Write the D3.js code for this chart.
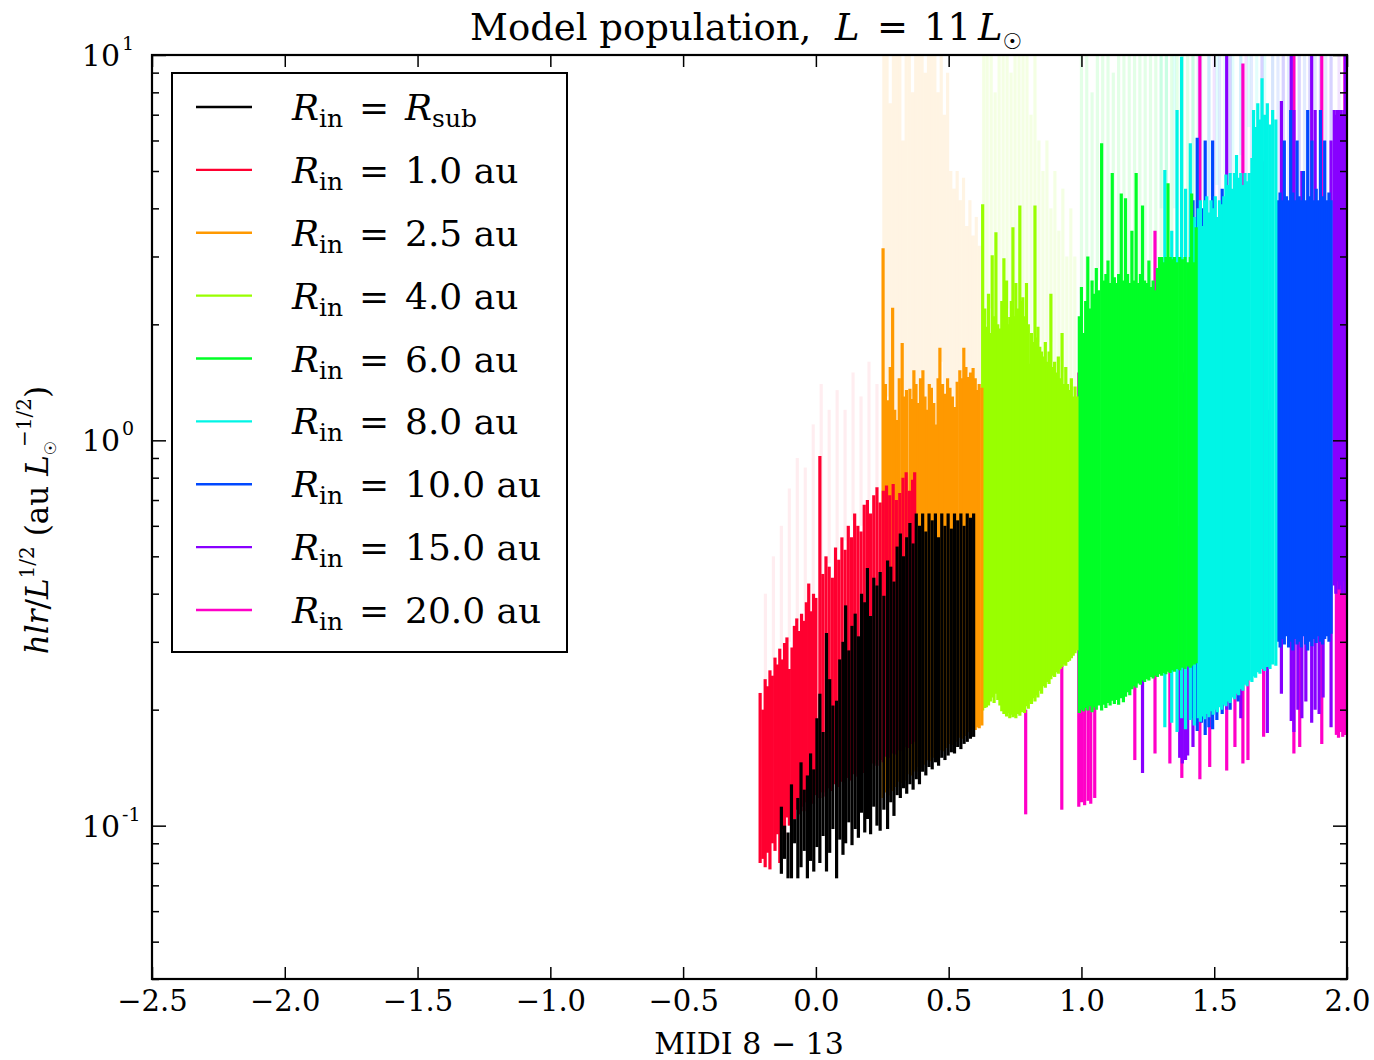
<!DOCTYPE html>
<html lang="en">
<head>
<meta charset="utf-8">
<title>Model population</title>
<script src="https://d3js.org/d3.v7.min.js"></script>
<style>
  body { margin: 0; background: #ffffff; }
  text { font-family: "DejaVu Serif", serif; fill: #000; }
</style>
</head>
<body>
<script>
// ---- data: each segment is [MIDI 8-13 colour, hlr low, hlr high] ----
var labels = ["R_sub", "1.0 au", "2.5 au", "4.0 au", "6.0 au", "8.0 au", "10.0 au", "15.0 au", "20.0 au"];
var colors = ["#000000", "#ff0030", "#ff9900", "#99ff00", "#00ff26", "#00f5e6", "#0048ff", "#8800ff", "#ff00c8"];
var xTicks = [-2.5, -2.0, -1.5, -1.0, -0.5, 0.0, 0.5, 1.0, 1.5, 2.0];
var yMajor = [0.1, 1, 10];

var rsub = [
  [-0.130,0.075,0.112],[-0.118,0.082,0.100],[-0.105,0.073,0.096],[-0.092,0.073,0.128],[-0.080,0.090,0.104],
  [-0.068,0.073,0.118],[-0.056,0.078,0.146],[-0.044,0.086,0.124],[-0.032,0.073,0.135],[-0.020,0.081,0.154],
  [-0.008,0.076,0.140],[0.004,0.088,0.190],[0.015,0.080,0.220],[0.027,0.094,0.175],[0.040,0.076,0.316],
  [0.052,0.085,0.240],[0.064,0.098,0.205],[0.078,0.073,0.211],[0.090,0.092,0.270],[0.102,0.084,0.300],
  [0.112,0.090,0.373],[0.124,0.102,0.285],[0.136,0.089,0.330],[0.148,0.098,0.355],[0.160,0.093,0.310],
  [0.172,0.108,0.400],[0.184,0.096,0.380],[0.194,0.104,0.466],[0.206,0.095,0.350],[0.218,0.112,0.440],
  [0.230,0.100,0.420],[0.242,0.097,0.455],[0.256,0.110,0.395],[0.270,0.098,0.488],[0.282,0.115,0.470],
  [0.294,0.106,0.430],[0.306,0.120,0.530],[0.318,0.118,0.573],[0.330,0.125,0.500],[0.342,0.121,0.560],
  [0.354,0.128,0.610],[0.366,0.124,0.540],[0.378,0.132,0.646],[0.390,0.128,0.600],[0.402,0.138,0.646],
  [0.414,0.135,0.580],[0.426,0.142,0.646],[0.438,0.140,0.620],[0.450,0.146,0.646],[0.462,0.143,0.560],
  [0.474,0.150,0.646],[0.486,0.148,0.600],[0.498,0.152,0.646],[0.510,0.155,0.590],[0.522,0.154,0.646],
  [0.534,0.160,0.620],[0.546,0.158,0.646],[0.558,0.163,0.600],[0.570,0.165,0.646],[0.582,0.168,0.630],
  [0.594,0.170,0.646]
];
var rin1 = [
  [-0.210,0.080,0.221],[-0.200,0.082,0.200],[-0.191,0.078,0.240],[-0.182,0.085,0.230],[-0.173,0.077,0.253],
  [-0.164,0.090,0.245],[-0.154,0.086,0.273],[-0.145,0.095,0.262],[-0.136,0.080,0.288],[-0.127,0.098,0.270],
  [-0.118,0.092,0.298],[-0.109,0.105,0.308],[-0.100,0.100,0.255],[-0.090,0.108,0.290],[-0.081,0.104,0.330],
  [-0.072,0.110,0.345],[-0.063,0.107,0.320],[-0.054,0.112,0.355],[-0.045,0.109,0.340],[-0.036,0.115,0.380],
  [-0.027,0.113,0.425],[-0.018,0.118,0.360],[-0.009,0.114,0.400],[0.000,0.120,0.390],[0.015,0.118,0.910],
  [0.026,0.122,0.450],[0.038,0.119,0.500],[0.050,0.125,0.470],[0.062,0.123,0.440],[0.074,0.128,0.527],
  [0.086,0.126,0.490],[0.098,0.130,0.560],[0.110,0.129,0.520],[0.122,0.133,0.600],[0.134,0.131,0.560],
  [0.146,0.136,0.646],[0.158,0.134,0.600],[0.170,0.139,0.580],[0.182,0.137,0.680],[0.194,0.142,0.700],
  [0.206,0.140,0.646],[0.218,0.145,0.720],[0.230,0.143,0.755],[0.242,0.148,0.690],[0.254,0.146,0.740],
  [0.266,0.151,0.764],[0.278,0.150,0.720],[0.291,0.154,0.770],[0.303,0.153,0.700],[0.316,0.157,0.730],
  [0.328,0.156,0.800],[0.340,0.160,0.826],[0.352,0.159,0.740],[0.364,0.163,0.790],[0.372,0.165,0.826]
];
var rin25 = [
  [0.253,0.118,3.15],[0.262,0.122,1.40],[0.272,0.120,1.27],[0.280,0.125,1.55],[0.289,0.123,2.21],
  [0.297,0.127,1.20],[0.304,0.126,1.13],[0.314,0.130,1.45],[0.325,0.129,1.79],[0.333,0.133,1.30],
  [0.341,0.131,1.35],[0.354,0.136,1.36],[0.362,0.135,1.28],[0.369,0.139,1.52],[0.377,0.138,1.40],
  [0.384,0.142,1.25],[0.394,0.141,1.45],[0.403,0.145,1.52],[0.411,0.144,1.30],[0.418,0.148,1.20],
  [0.427,0.147,1.40],[0.435,0.151,1.37],[0.444,0.150,1.25],[0.452,0.154,1.10],[0.460,0.153,1.45],
  [0.467,0.157,1.74],[0.477,0.156,1.40],[0.486,0.160,1.32],[0.496,0.159,1.45],[0.505,0.163,1.37],
  [0.514,0.162,1.30],[0.523,0.166,1.22],[0.532,0.165,1.42],[0.542,0.169,1.52],[0.550,0.168,1.45],
  [0.557,0.172,1.74],[0.565,0.171,1.55],[0.573,0.175,1.46],[0.582,0.174,1.50],[0.592,0.178,1.54],
  [0.600,0.177,1.45],[0.606,0.180,1.35],[0.615,0.179,1.40],[0.625,0.182,1.37]
];
var rin4 = [
  [0.628,0.199,4.10],[0.636,0.202,2.20],[0.642,0.203,1.97],[0.650,0.205,2.40],[0.657,0.210,1.90],
  [0.664,0.215,3.02],[0.671,0.208,2.10],[0.678,0.220,3.47],[0.685,0.212,2.00],[0.693,0.205,1.95],
  [0.700,0.198,2.30],[0.708,0.195,2.97],[0.713,0.200,2.20],[0.718,0.192,2.60],[0.724,0.196,2.00],
  [0.730,0.190,2.09],[0.736,0.194,2.30],[0.742,0.191,3.57],[0.748,0.193,2.10],[0.753,0.190,2.56],
  [0.760,0.195,2.20],[0.768,0.193,4.07],[0.774,0.197,2.30],[0.779,0.199,2.35],[0.786,0.196,2.10],
  [0.793,0.204,2.56],[0.800,0.201,2.00],[0.806,0.211,1.58],[0.812,0.207,1.90],[0.818,0.214,1.80],
  [0.825,0.210,4.07],[0.830,0.218,1.85],[0.836,0.215,1.97],[0.843,0.224,1.75],[0.850,0.220,1.70],
  [0.857,0.230,1.65],[0.864,0.228,1.80],[0.871,0.236,1.60],[0.878,0.233,1.70],[0.885,0.240,2.40],
  [0.892,0.245,1.55],[0.899,0.243,1.60],[0.906,0.250,1.50],[0.913,0.248,1.65],[0.920,0.255,1.45],
  [0.927,0.258,1.90],[0.934,0.262,1.40],[0.941,0.260,1.55],[0.948,0.266,1.40],[0.955,0.268,1.35],
  [0.962,0.272,1.45],[0.969,0.276,1.30],[0.976,0.280,1.38],[0.983,0.285,1.30]
];
var rin6 = [
  [0.992,0.196,2.10],[1.000,0.200,2.50],[1.008,0.198,1.90],[1.016,0.202,2.30],[1.024,0.199,3.00],
  [1.032,0.204,2.20],[1.040,0.197,2.60],[1.048,0.203,2.40],[1.056,0.200,2.80],[1.064,0.205,2.45],
  [1.076,0.199,5.90],[1.084,0.206,2.60],[1.092,0.202,2.70],[1.100,0.208,2.93],[1.108,0.205,2.56],
  [1.116,0.211,4.94],[1.124,0.207,2.65],[1.132,0.212,2.56],[1.140,0.206,2.70],[1.150,0.214,4.37],
  [1.158,0.209,2.60],[1.166,0.216,4.25],[1.174,0.222,2.70],[1.182,0.218,2.56],[1.190,0.226,3.50],
  [1.198,0.230,2.60],[1.206,0.228,4.94],[1.214,0.234,2.56],[1.222,0.232,2.70],[1.230,0.238,4.07],
  [1.238,0.236,2.60],[1.246,0.240,2.56],[1.254,0.238,2.93],[1.262,0.243,2.50],[1.270,0.241,2.60],
  [1.278,0.245,2.45],[1.286,0.243,2.80],[1.294,0.247,2.99],[1.302,0.245,2.99],[1.310,0.249,2.90],
  [1.318,0.247,2.99],[1.326,0.251,4.65],[1.334,0.249,2.99],[1.342,0.253,2.95],[1.350,0.251,2.99],
  [1.360,0.255,2.90],[1.370,0.253,2.99],[1.380,0.257,2.95],[1.390,0.255,2.99],[1.400,0.259,2.90],
  [1.410,0.257,2.99],[1.415,0.260,4.37],[1.425,0.262,2.90],[1.432,0.264,3.57]
];
var rin8 = [
  [1.314,0.180,5.03],[1.340,0.185,3.50],[1.360,0.175,7.20],[1.377,0.190,9.90],[1.392,0.178,4.50],
  [1.410,0.188,5.90],[1.425,0.182,3.80],[1.440,0.190,4.00],[1.448,0.186,4.20],[1.456,0.192,3.60],
  [1.464,0.189,4.20],[1.472,0.195,4.30],[1.480,0.191,3.90],[1.488,0.198,4.20],[1.496,0.194,4.00],
  [1.504,0.200,4.30],[1.512,0.197,3.80],[1.520,0.203,4.20],[1.528,0.200,4.10],[1.536,0.206,4.30],
  [1.544,0.204,4.90],[1.552,0.210,4.60],[1.560,0.208,4.94],[1.568,0.215,4.50],[1.576,0.213,4.94],
  [1.584,0.220,5.50],[1.592,0.218,4.80],[1.600,0.226,4.94],[1.608,0.224,4.60],[1.616,0.232,4.94],
  [1.624,0.230,4.70],[1.632,0.238,4.94],[1.642,0.236,5.40],[1.648,0.244,7.20],[1.656,0.242,6.50],
  [1.664,0.250,7.50],[1.672,0.248,6.80],[1.680,0.255,8.70],[1.690,0.252,7.00],[1.700,0.258,7.50],
  [1.710,0.255,6.60],[1.720,0.262,7.20],[1.732,0.260,6.80]
];
var rin10 = [
  [1.420,0.190,4.20],[1.436,0.176,6.10],[1.452,0.185,4.00],[1.466,0.172,6.00],[1.480,0.180,3.50],
  [1.494,0.178,6.00],[1.510,0.188,3.80],[1.530,0.195,4.50],[1.560,0.200,3.60],[1.590,0.210,4.20],
  [1.740,0.300,4.20],[1.748,0.290,4.40],[1.756,0.305,4.20],[1.764,0.295,6.00],[1.772,0.310,4.30],
  [1.780,0.290,4.20],[1.788,0.300,7.20],[1.796,0.285,4.40],[1.804,0.305,4.20],[1.812,0.295,6.00],
  [1.820,0.300,4.30],[1.828,0.290,4.20],[1.836,0.310,5.00],[1.844,0.295,4.20],[1.852,0.285,7.20],
  [1.860,0.300,4.30],[1.868,0.292,6.00],[1.876,0.305,4.20],[1.884,0.298,4.50],[1.892,0.310,4.20],
  [1.900,0.300,7.20],[1.908,0.295,4.30],[1.916,0.305,6.00],[1.924,0.310,4.20],[1.932,0.300,4.40],
  [1.940,0.315,4.20]
];
var rin15 = [
  [1.230,0.137,0.240],[1.370,0.150,0.600],[1.380,0.145,1.50],[1.392,0.148,0.900],[1.400,0.152,2.00],
  [1.420,0.160,0.500],[1.547,0.200,10.0],[1.600,0.190,3.00],[1.700,0.174,1.20],[1.753,0.220,7.60],
  [1.790,0.187,10.0],[1.800,0.175,7.20],[1.815,0.200,3.00],[1.830,0.190,5.00],[1.845,0.210,2.00],
  [1.867,0.185,10.0],[1.880,0.200,7.20],[1.895,0.195,4.00],[1.910,0.215,3.00],[1.940,0.180,6.00],
  [1.952,0.420,7.20],[1.958,0.400,7.00],[1.964,0.430,7.20],[1.970,0.410,6.80],[1.976,0.420,7.20],
  [1.982,0.400,7.00],[1.988,0.430,7.20],[1.994,0.400,10.0]
];
var rin20 = [
  [0.790,0.107,0.200],[0.926,0.110,0.300],[0.990,0.112,1.50],[1.000,0.115,0.600],[1.012,0.113,0.300],
  [1.025,0.116,0.250],[1.035,0.114,0.350],[1.050,0.118,0.220],[1.201,0.148,0.300],[1.277,0.154,3.50],
  [1.333,0.145,0.400],[1.378,0.133,0.350],[1.446,0.132,10.0],[1.483,0.142,0.300],[1.547,0.139,0.350],
  [1.578,0.160,0.250],[1.608,0.145,9.50],[1.627,0.148,0.300],[1.686,0.170,5.30],[1.800,0.154,10.0],
  [1.822,0.160,0.350],[1.905,0.163,10.0],[1.960,0.172,0.450],[1.968,0.169,0.430],[1.976,0.175,0.450],
  [1.984,0.170,0.440],[1.992,0.172,10.0]
];

// faint (low opacity) extensions drawn behind the solid segments
var rin1Faint = [
  [-0.19,0.24,0.40],[-0.16,0.27,0.50],[-0.13,0.29,0.60],[-0.10,0.30,0.75],[-0.07,0.34,0.90],
  [-0.04,0.36,0.85],[-0.01,0.40,1.10],[0.02,0.45,1.40],[0.05,0.48,1.20],[0.08,0.52,1.35],
  [0.11,0.55,1.20],[0.14,0.62,1.50],[0.17,0.60,1.30],[0.20,0.70,1.60],[0.23,0.75,1.40]
];
var rin25Faint = [
  [0.256,1.4,10],[0.268,1.3,10],[0.280,1.5,7.5],[0.292,1.2,10],[0.304,1.1,10],[0.316,1.4,10],
  [0.328,1.3,6.0],[0.340,1.35,10],[0.352,1.36,10],[0.364,1.3,8.0],[0.376,1.4,10],[0.388,1.25,10],
  [0.400,1.5,10],[0.412,1.3,9.0],[0.424,1.2,10],[0.436,1.37,10],[0.448,1.1,10],[0.460,1.45,8.0],
  [0.472,1.6,10],[0.484,1.3,7.0],[0.496,1.45,9.0],[0.508,1.37,5.0],[0.520,1.22,4.5],[0.532,1.4,5.0],
  [0.544,1.5,4.2],[0.556,1.7,4.8],[0.568,1.5,3.6],[0.580,1.5,4.2],[0.592,1.54,3.4],[0.604,1.35,3.8],
  [0.616,1.4,3.2]
];
var rin4Faint = [
  [0.632,2.0,10],[0.645,2.0,10],[0.660,2.2,10],[0.675,2.0,8.0],[0.690,2.0,10],[0.705,2.2,10],
  [0.720,2.2,10],[0.735,2.1,9.0],[0.750,2.3,10],[0.765,2.2,10],[0.780,2.1,10],[0.795,2.0,10],
  [0.810,1.9,7.0],[0.825,2.0,10],[0.840,1.8,6.0],[0.855,1.7,5.0],[0.870,1.6,6.0],[0.885,1.8,4.0],
  [0.900,1.5,5.0],[0.915,1.6,3.5],[0.930,1.5,4.5],[0.945,1.4,3.0],[0.960,1.4,4.0],[0.975,1.35,3.0]
];
var rin6Faint = [
  [1.00,2.4,10],[1.02,2.3,10],[1.04,2.5,8.0],[1.06,2.6,10],[1.08,2.6,10],[1.10,2.9,10],
  [1.12,2.6,9.0],[1.14,2.7,10],[1.16,2.6,10],[1.18,2.7,10],[1.20,2.6,10],[1.22,2.7,10],
  [1.24,2.6,10],[1.26,2.5,10],[1.28,2.6,10],[1.30,3.0,10],[1.32,3.0,10],[1.34,3.0,10],
  [1.36,2.9,10],[1.38,3.0,10],[1.40,2.9,10],[1.42,3.0,10]
];
var rin8Faint = [
  [1.30,4.0,10],[1.32,4.5,10],[1.35,4.0,10],[1.38,4.5,10],[1.42,3.8,10],[1.45,4.2,10],
  [1.48,4.3,10],[1.51,4.6,10],[1.54,4.9,10],[1.57,4.9,10],[1.60,5.5,10],[1.63,6.5,10],
  [1.66,6.8,10],[1.69,5.5,10],[1.72,4.8,10]
];
var rin10Faint = [
  [1.44,4.0,10],[1.48,3.5,10],[1.52,3.8,10],[1.56,3.6,10],[1.60,4.2,10],[1.64,4.5,10],
  [1.68,4.5,10],[1.74,4.2,10],[1.76,4.2,10],[1.78,4.2,10],[1.80,4.4,10],[1.82,4.3,10],
  [1.84,4.2,10],[1.86,4.3,10],[1.88,4.5,10],[1.90,7.2,10],[1.92,4.2,10],[1.94,4.2,10]
];
var rin15Faint = [
  [1.50,3.0,10],[1.56,3.0,10],[1.62,3.0,10],[1.68,3.0,10],[1.72,3.0,10],[1.76,4.0,10],
  [1.82,3.0,10],[1.86,4.0,10],[1.90,3.0,10],[1.94,4.0,10],[1.97,7.0,10]
];

var solidSets = [rsub, rin1, rin25, rin4, rin6, rin8, rin10, rin15, rin20];
var faintSets = [[], rin1Faint, rin25Faint, rin4Faint, rin6Faint, rin8Faint, rin10Faint, rin15Faint, []];
var faintAlpha = [0, 0.07, 0.11, 0.11, 0.11, 0.11, 0.11, 0.11, 0];

// ---- layout ----
var width = 1374, height = 1060;
var plotL = 152, plotR = 1347, plotT = 55, plotB = 979;

var svg = d3.select("body").append("svg")
    .attr("width", width)
    .attr("height", height);

var x = d3.scaleLinear().domain([-2.5, 2.0]).range([plotL, plotR]);
var y = d3.scaleLog().domain([0.04, 10]).range([plotB, plotT]);

svg.append("defs").append("clipPath").attr("id", "plotclip")
  .append("rect").attr("x", plotL).attr("y", plotT)
  .attr("width", plotR - plotL).attr("height", plotB - plotT);

var plot = svg.append("g").attr("clip-path", "url(#plotclip)");

// faint layers first, magenta at the bottom and black on top
for (var i = faintSets.length - 1; i >= 0; i--) {
  plot.append("g").selectAll("line")
    .data(faintSets[i]).enter().append("line")
    .attr("x1", function(d) { return x(d[0]); })
    .attr("x2", function(d) { return x(d[0]); })
    .attr("y1", function(d) { return y(d[1]); })
    .attr("y2", function(d) { return y(d[2]); })
    .attr("stroke", colors[i])
    .attr("stroke-opacity", faintAlpha[i])
    .attr("stroke-width", 3.2);
}
for (var j = solidSets.length - 1; j >= 0; j--) {
  plot.append("g").selectAll("line")
    .data(solidSets[j]).enter().append("line")
    .attr("x1", function(d) { return x(d[0]); })
    .attr("x2", function(d) { return x(d[0]); })
    .attr("y1", function(d) { return y(d[1]); })
    .attr("y2", function(d) { return y(d[2]); })
    .attr("stroke", colors[j])
    .attr("stroke-width", 3.2);
}

// ---- axes (ticks inside on all four sides) ----
var minorY = [];
[0.01, 0.1, 1].forEach(function(b) {
  for (var k = 2; k <= 9; k++) {
    var v = b * k;
    if (v >= 0.04 && v <= 10) minorY.push(+v.toFixed(3));
  }
});

function styleAxis(g) {
  g.select(".domain").remove();
  g.selectAll(".tick line").attr("stroke", "#000").attr("stroke-width", 1.5);
  g.selectAll(".tick text").attr("font-family", "DejaVu Serif").attr("font-size", 29).attr("fill", "#000");
}

svg.append("g").attr("transform", "translate(0," + plotB + ")")
  .call(d3.axisBottom(x).tickValues(xTicks).tickSize(-12).tickPadding(11).tickFormat(d3.format(".1f")))
  .call(styleAxis);
svg.append("g").attr("transform", "translate(0," + plotT + ")")
  .call(d3.axisTop(x).tickValues(xTicks).tickSize(-12).tickFormat(""))
  .call(styleAxis);
svg.append("g").attr("transform", "translate(" + plotL + ",0)")
  .call(d3.axisLeft(y).tickValues(yMajor).tickSize(-14).tickFormat(""))
  .call(styleAxis);
svg.append("g").attr("transform", "translate(" + plotL + ",0)")
  .call(d3.axisLeft(y).tickValues(minorY).tickSize(-7).tickFormat(""))
  .call(styleAxis);
svg.append("g").attr("transform", "translate(" + plotR + ",0)")
  .call(d3.axisRight(y).tickValues(yMajor).tickSize(-14).tickFormat(""))
  .call(styleAxis);
svg.append("g").attr("transform", "translate(" + plotR + ",0)")
  .call(d3.axisRight(y).tickValues(minorY).tickSize(-7).tickFormat(""))
  .call(styleAxis);

// y tick labels as 10^k
var ylg = svg.append("g");
yMajor.forEach(function(d) {
  ylg.append("text")
    .attr("x", 120).attr("y", y(d) + 11)
    .attr("text-anchor", "end").attr("font-size", 30)
    .text("10");
  ylg.append("text")
    .attr("x", 122).attr("y", y(d) - 5)
    .attr("font-size", 19)
    .text(String(Math.round(Math.log10(d))));
});

// frame
svg.append("rect")
  .attr("x", plotL).attr("y", plotT)
  .attr("width", plotR - plotL).attr("height", plotB - plotT)
  .attr("fill", "none").attr("stroke", "#000").attr("stroke-width", 2.2);

// ---- legend ----
var leg = svg.append("g");
leg.append("rect")
  .attr("x", 172).attr("y", 73).attr("width", 395).attr("height", 579)
  .attr("fill", "#fff").attr("stroke", "#000").attr("stroke-width", 2);

var rowY = d3.scaleLinear().domain([0, 8]).range([107, 610]);
labels.forEach(function(lab, i) {
  var cy = rowY(i);
  leg.append("line")
    .attr("x1", 196).attr("x2", 252).attr("y1", cy).attr("y2", cy)
    .attr("stroke", colors[i]).attr("stroke-width", 2.4);
  var t = leg.append("text").attr("x", 292).attr("y", cy + 13).attr("font-size", 36);
  t.append("tspan").attr("font-style", "italic").text("R");
  t.append("tspan").attr("font-size", 25).attr("dy", 7).text("in");
  t.append("tspan").attr("x", 359).attr("dy", -7).text("=");
  if (lab === "R_sub") {
    t.append("tspan").attr("x", 405).attr("font-style", "italic").text("R");
    t.append("tspan").attr("font-size", 25).attr("dy", 7).text("sub");
  } else {
    t.append("tspan").attr("x", 405).text(lab);
  }
});

// ---- titles ----
var title = svg.append("text").attr("x", 470).attr("y", 40).attr("font-size", 37);
title.append("tspan").text("Model population,");
title.append("tspan").attr("x", 835).attr("font-style", "italic").text("L");
title.append("tspan").attr("x", 877).text("=");
title.append("tspan").attr("x", 924).text("11");
title.append("tspan").attr("x", 978).attr("font-style", "italic").text("L");
title.append("tspan").attr("font-family", "DejaVu Sans").attr("font-size", 22).attr("dy", 9).text("\u2609");

svg.append("text").attr("x", 749).attr("y", 1054)
  .attr("text-anchor", "middle").attr("font-size", 30)
  .text("MIDI 8 \u2212 13");

var ylab = svg.append("text")
  .attr("transform", "translate(48,520) rotate(-90)")
  .attr("text-anchor", "middle").attr("font-size", 31);
ylab.append("tspan").attr("font-style", "italic").text("hlr");
ylab.append("tspan").text("/");
ylab.append("tspan").attr("font-style", "italic").text("L");
ylab.append("tspan").attr("font-size", 20).attr("dy", -14).text("1/2");
ylab.append("tspan").attr("dy", 14).attr("dx", 10).text("(au ");
ylab.append("tspan").attr("font-style", "italic").text("L");
ylab.append("tspan").attr("font-family", "DejaVu Sans").attr("font-size", 16).attr("dy", 8).text("\u2609");
ylab.append("tspan").attr("font-size", 20).attr("dx", -6).attr("dy", -25).text("\u22121/2");
ylab.append("tspan").attr("dy", 17).text(")");
</script>
</body>
</html>
